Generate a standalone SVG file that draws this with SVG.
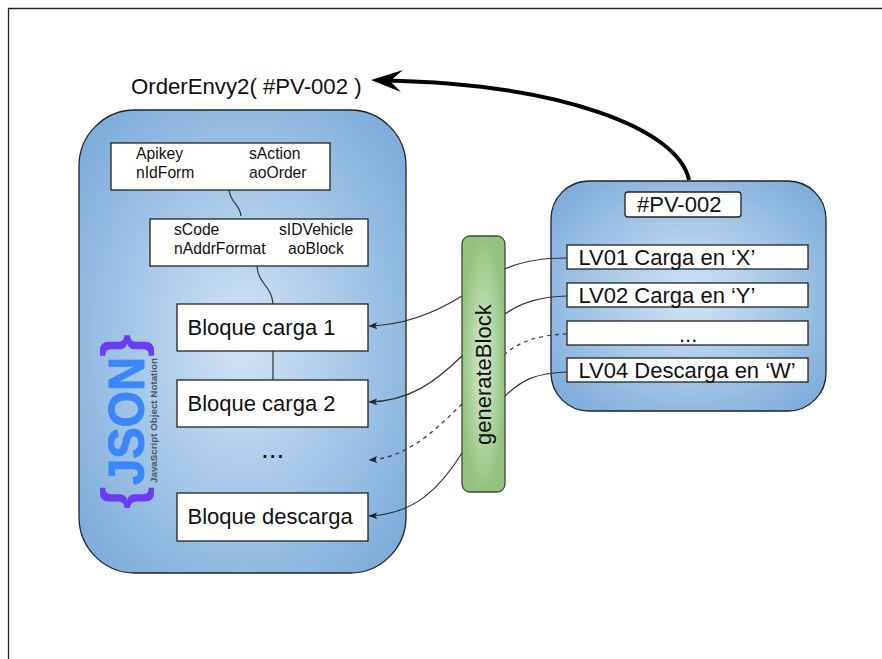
<svg xmlns="http://www.w3.org/2000/svg" width="882" height="659" viewBox="0 0 882 659">
<style>
text{font-family:"Liberation Sans",Arial,sans-serif;fill:#111}
.s{font-size:15.7px}
.m{font-size:22px}
.box{fill:#fff;stroke:#222;stroke-width:1.3}
.c{fill:none;stroke:#333;stroke-width:1.2}
.d{stroke-dasharray:4 4}
</style>
<defs>
<radialGradient id="blue" cx="50%" cy="50%" r="70%"><stop offset="0" stop-color="#d3e4f5"/><stop offset="1" stop-color="#75a8d9"/></radialGradient>
<radialGradient id="green" cx="50%" cy="50%" r="50%"><stop offset="0" stop-color="#dcebd6"/><stop offset="1" stop-color="#93c47d"/></radialGradient>
<marker id="a" viewBox="0 0 10 8" refX="9.500" refY="4" markerWidth="9" markerHeight="7" markerUnits="userSpaceOnUse" orient="auto"><path d="M10 4L0 0L2.500 4L0 8Z" fill="#222"/></marker>
</defs>
<path d="M882 8.500H8.500V659" fill="none" stroke="#222" stroke-width="1.3"/>
<g id="json-node">
<rect x="79" y="110" width="327" height="463" rx="56" fill="url(#blue)" stroke="#222" stroke-width="1.3"/>
<g transform="translate(144,485) rotate(-90)"><text x="0" y="0" font-size="50" font-weight="700" textLength="128" lengthAdjust="spacingAndGlyphs" style="fill:#3b86fb;stroke:#3b86fb;stroke-width:1">JSON</text></g>
<g transform="translate(157,483) rotate(-90)"><text x="0" y="0" font-size="9.500" font-weight="700" textLength="125" lengthAdjust="spacingAndGlyphs" style="fill:#4a5560">JavaScript Object Notation</text></g>
<g transform="translate(142,509) rotate(-90)"><text font-size="58" font-weight="700" style="fill:#6c3cf0">{</text></g>
<g transform="translate(142,357) rotate(-90)"><text font-size="58" font-weight="700" style="fill:#6c3cf0">}</text></g>
</g>
<g id="source-node">
<rect x="551" y="181" width="275" height="230" rx="38" fill="url(#blue)" stroke="#222" stroke-width="1.3"/>
</g>
<g id="generateBlock">
<rect x="462" y="236" width="43" height="256" rx="8" fill="url(#green)" stroke="#444" stroke-width="1.3"/>
<text class="m" transform="translate(491,445) rotate(-90)">generateBlock</text>
</g>
<g id="order-box">
<rect class="box" x="111" y="143" width="219" height="47"/>
<text class="s" x="136" y="159">Apikey</text><text class="s" x="249" y="159">sAction</text>
<text class="s" x="136" y="178">nIdForm</text><text class="s" x="249" y="178">aoOrder</text>
</g>
<g id="block-box">
<rect class="box" x="150" y="219" width="218" height="47"/>
<text class="s" x="174" y="235">sCode</text><text class="s" x="279" y="235">sIDVehicle</text>
<text class="s" x="174" y="254">nAddrFormat</text><text class="s" x="288" y="254">aoBlock</text>
</g>
<g id="bloque-1"><rect class="box" x="177" y="304" width="191" height="47"/><text class="m" x="187.500" y="335">Bloque carga 1</text></g>
<g id="bloque-2"><rect class="box" x="177" y="380" width="191" height="47"/><text class="m" x="187.500" y="411">Bloque carga 2</text></g>
<g id="bloque-dots"><text x="261" y="458" font-size="28">...</text></g>
<g id="bloque-descarga"><rect class="box" x="177" y="493" width="191" height="48"/><text class="m" x="187.500" y="524">Bloque descarga</text></g>
<g id="pv"><rect class="box" x="625" y="192" width="116" height="25" rx="3"/><text class="m" x="637" y="212">#PV-002</text></g>
<g id="lv01"><rect class="box" x="567" y="245" width="241" height="24"/><text class="m" x="578.500" y="265">LV01 Carga en ‘X’</text></g>
<g id="lv02"><rect class="box" x="567" y="283" width="241" height="24"/><text class="m" x="578.500" y="303">LV02 Carga en ‘Y’</text></g>
<g id="lv-dots"><rect class="box" x="567" y="321" width="241" height="24"/><text class="m" x="679" y="342">...</text></g>
<g id="lv04"><rect class="box" x="567" y="358" width="241" height="24"/><text class="m" x="578.500" y="378">LV04 Descarga en ‘W’</text></g>
<g id="connectors">
<path class="c" d="M229 190C231 204 240 204 241 216"/>
<path class="c" d="M257 266C258 284 272 286 273 304"/>
<path class="c" d="M273 351V380"/>
<path class="c" d="M567 258C540 258 520 262 505 269"/>
<path class="c" d="M567 296C540 297 522 302 505 314"/>
<path class="c d" d="M567 334C540 335 522 340 505 354"/>
<path class="c" d="M567 372C535 373 522 380 505 396"/>
<path class="c" d="M462 296C435 313 405 325 369 326" marker-end="url(#a)"/>
<path class="c" d="M462 356C435 382 410 401 369 402" marker-end="url(#a)"/>
<path class="c d" d="M462 404C440 425 410 458 369 460" marker-end="url(#a)"/>
<path class="c" d="M462 453C440 488 415 514 369 516" marker-end="url(#a)"/>
<path d="M689 180C678 128 560 84 385 80.500" fill="none" stroke="#000" stroke-width="4"/>
<path d="M371 80L403 70L390 81L401 92Z" fill="#000"/>
</g>
<g id="title"><text class="m" x="131" y="94" style="font-size:22.200px">OrderEnvy2( #PV-002 )</text></g>
</svg>
